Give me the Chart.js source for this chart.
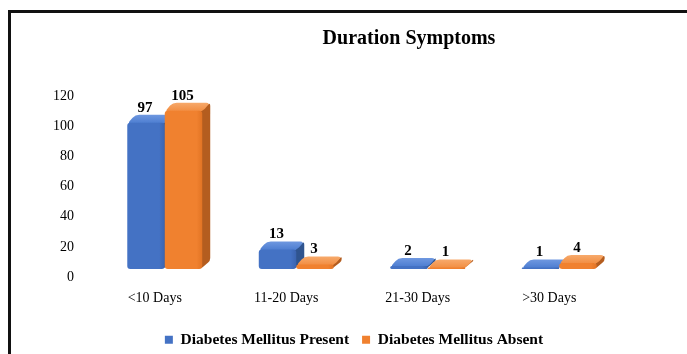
<!DOCTYPE html>
<html>
<head>
<meta charset="utf-8">
<script src="https://cdn.jsdelivr.net/npm/chart.js@4/dist/chart.umd.min.js"></script>
<style>
  html, body { margin: 0; padding: 0; background: #ffffff; }
  #wrap { position: relative; width: 687px; height: 354px; overflow: hidden; background: #ffffff; }
  #frame { position: absolute; left: 8px; top: 10px; width: 700px; height: 360px;
           border-left: 3px solid #111; border-top: 3px solid #111; box-sizing: border-box; }
  #chart { position: absolute; left: 0; top: 0; }
</style>
</head>
<body>
<div id="wrap">
  <div id="frame"></div>
  <canvas id="chart" width="687" height="354"></canvas>
</div>
<script>
// Duration of symptoms, split by diabetes status
const categories = ['<10 Days', '11-20 Days', '21-30 Days', '>30 Days'];
const dmPresent = [97, 13, 2, 1];
const dmAbsent = [105, 3, 1, 4];
const seriesNames = ['Diabetes Mellitus Present', 'Diabetes Mellitus Absent'];
const yTicks = [0, 20, 40, 60, 80, 100, 120];

const SERIF = '"Liberation Serif", "Times New Roman", serif';
const DEPTH_X = 8, DEPTH_Y = 8;

const palette = [
  { front: '#4472c4', frontDark: '#3b64b0', top: '#4f7fd2', topLight: '#6f98e0', side: '#2f548f' },
  { front: '#f0812f', frontDark: '#e27424', top: '#f28f44', topLight: '#f7aa6c', side: '#b45d1f' }
];

function roundedPoly(ctx, pts, r) {
  ctx.beginPath();
  const n = pts.length;
  for (let i = 0; i < n; i++) {
    const p0 = pts[(i - 1 + n) % n], p1 = pts[i], p2 = pts[(i + 1) % n];
    const d1 = Math.hypot(p1[0] - p0[0], p1[1] - p0[1]);
    const d2 = Math.hypot(p2[0] - p1[0], p2[1] - p1[1]);
    const rr = Math.min(r, d1 / 2, d2 / 2);
    const a = [p1[0] + (p0[0] - p1[0]) * rr / (d1 || 1), p1[1] + (p0[1] - p1[1]) * rr / (d1 || 1)];
    const b = [p1[0] + (p2[0] - p1[0]) * rr / (d2 || 1), p1[1] + (p2[1] - p1[1]) * rr / (d2 || 1)];
    if (i === 0) ctx.moveTo(a[0], a[1]); else ctx.lineTo(a[0], a[1]);
    ctx.quadraticCurveTo(p1[0], p1[1], b[0], b[1]);
  }
  ctx.closePath();
}

function drawBox(ctx, el, col) {
  const w = el.width;
  const l = el.x - w / 2, r = el.x + w / 2;
  const top = el.y, base = el.base;
  const dx = DEPTH_X, dy = DEPTH_Y;

  // right side face
  ctx.fillStyle = col.side;
  roundedPoly(ctx, [[r - 2, top], [r + dx, top - dy], [r + dx, base - dy], [r - 2, base]], 3);
  ctx.fill();

  // top face
  const g = ctx.createLinearGradient(0, top - dy, 0, top);
  g.addColorStop(0, col.topLight);
  g.addColorStop(1, col.top);
  ctx.fillStyle = g;
  roundedPoly(ctx, [[l, top + 1], [l + dx, top - dy], [r + dx, top - dy], [r, top + 1]], 4);
  ctx.fill();

  // front face
  const h = Math.max(base - top, 0);
  if (h > 0) {
    const fg = ctx.createLinearGradient(l, 0, r, 0);
    fg.addColorStop(0, col.front);
    fg.addColorStop(0.85, col.front);
    fg.addColorStop(1, col.frontDark);
    ctx.fillStyle = fg;
    roundedPoly(ctx, [[l, top], [r, top], [r, base], [l, base]], Math.min(3, h / 2));
    ctx.fill();
  }
}

const boxes3d = {
  id: 'boxes3d',
  beforeDatasetDraw() { return false; },
  afterDatasetsDraw(chart) {
    const ctx = chart.ctx;
    ctx.save();
    const n = chart.data.labels.length;
    for (let i = 0; i < n; i++) {
      chart.data.datasets.forEach((ds, d) => {
        const el = chart.getDatasetMeta(d).data[i];
        drawBox(ctx, el, palette[d]);
      });
    }
    // value labels above each box
    ctx.fillStyle = '#000';
    ctx.font = 'bold 15px ' + SERIF;
    ctx.textAlign = 'center';
    ctx.textBaseline = 'middle';
    chart.data.datasets.forEach((ds, d) => {
      chart.getDatasetMeta(d).data.forEach((el, i) => {
        ctx.fillText(String(ds.data[i]), el.x - 1, el.y - DEPTH_Y - 7);
      });
    });
    ctx.restore();
  }
};

const titleText = {
  id: 'titleText',
  afterDraw(chart) {
    const ctx = chart.ctx;
    ctx.save();
    ctx.fillStyle = '#000';
    ctx.font = 'bold 20px ' + SERIF;
    ctx.textAlign = 'center';
    ctx.textBaseline = 'middle';
    ctx.fillText('Duration Symptoms', 409, 39);
    ctx.restore();
  }
};

new Chart(document.getElementById('chart'), {
  type: 'bar',
  data: {
    labels: categories,
    datasets: [
      { label: seriesNames[0], data: dmPresent, backgroundColor: palette[0].front },
      { label: seriesNames[1], data: dmAbsent, backgroundColor: palette[1].front }
    ]
  },
  plugins: [boxes3d, titleText],
  options: {
    responsive: false,
    animation: false,
    devicePixelRatio: 1,
    datasets: { bar: { categoryPercentage: 0.57, barPercentage: 1.0 } },
    layout: { padding: { left: 40, right: 19, top: 88, bottom: 0 } },
    plugins: {
      title: { display: false },
      tooltip: { enabled: false },
      legend: {
        display: true,
        position: 'bottom',
        maxHeight: 35,
        labels: {
          boxWidth: 8,
          boxHeight: 8,
          padding: 13,
          color: '#000',
          font: { family: SERIF, size: 15.5, weight: 'bold' }
        }
      }
    },
    scales: {
      x: {
        offset: true,
        grid: { display: false, drawTicks: false },
        border: { display: false },
        ticks: {
          color: '#000',
          padding: 21,
          labelOffset: -10,
          font: { family: SERIF, size: 14 }
        },
        afterFit(scale) { scale.height = 50; }
      },
      y: {
        position: 'left',
        min: yTicks[0],
        max: yTicks[yTicks.length - 1],
        grid: { display: false, drawTicks: false },
        border: { display: false },
        ticks: {
          stepSize: yTicks[1] - yTicks[0],
          color: '#000',
          padding: 25,
          labelOffset: 8,
          font: { family: SERIF, size: 14 }
        },
        afterFit(scale) { scale.width = 59; }
      },
      // empty right-hand margin axis (no ticks, no lines)
      yRight: {
        position: 'right',
        grid: { display: false, drawTicks: false },
        border: { display: false },
        ticks: { display: false },
        afterFit(scale) { scale.width = 43; }
      }
    }
  }
});
</script>
</body>
</html>
